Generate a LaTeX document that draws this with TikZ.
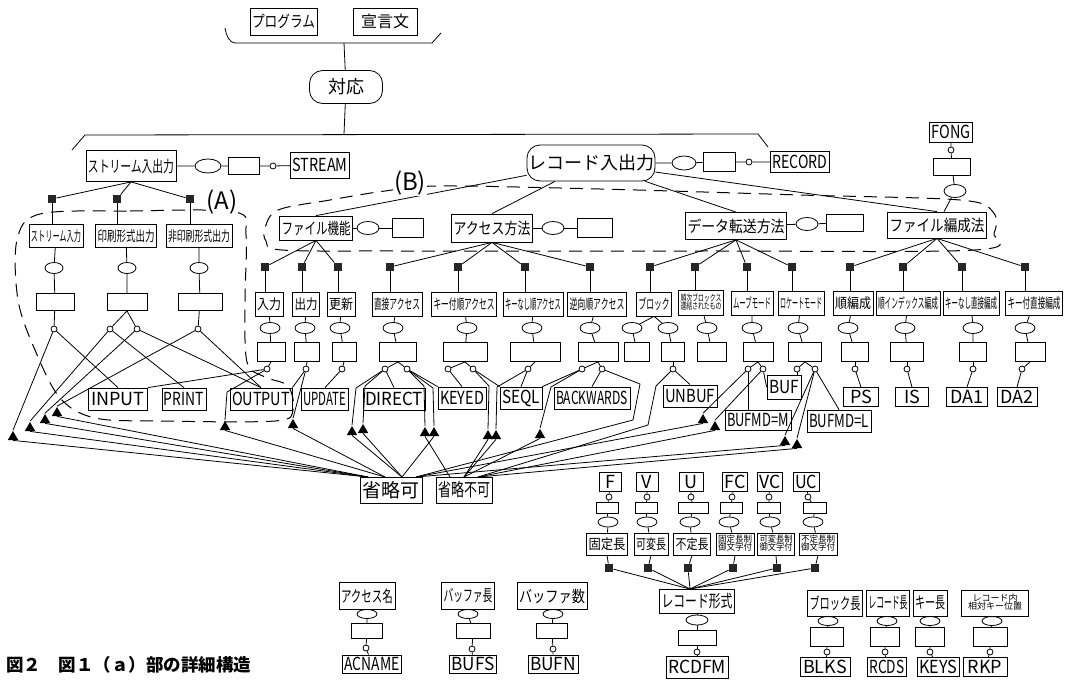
\documentclass[tikz,border=0pt]{standalone}
\usepackage{fontspec}
\setmainfont{Noto Sans CJK JP}
\usepackage{graphicx}
\usetikzlibrary{shapes.geometric,calc}
\newsavebox\fitbox
\newlength\fitlen
\newcommand\fitt[2]{\setlength\fitlen{#1pt}\addtolength\fitlen{-4pt}\sbox\fitbox{#2}\ifdim\wd\fitbox>\fitlen\resizebox{\fitlen}{\height}{\usebox\fitbox}\else\usebox\fitbox\fi}
\newcommand\twoln[2]{\begin{tabular}{@{}c@{}}#1\\[-2.5pt]#2\end{tabular}}
% \Bx[opts]{name}{x,y}{w}{h}{text}
\newcommand\Bx[6][]{\node[bx,minimum width=#4,minimum height=#5,#1] (#2) at (#3) {\fitt{#4}{#6}};}
\newcommand\Eb[4]{\node[bx,minimum width=#3,minimum height=#4] (#1) at (#2) {};}
\begin{document}
\begin{tikzpicture}[x=1pt,y=-1pt,line width=0.8pt,
 bx/.style={draw,rectangle,inner sep=0pt,font=\fontsize{16}{17}\selectfont},
 kw/.style={font=\fontsize{18}{19}\selectfont},
 sml/.style={font=\fontsize{14}{15}\selectfont},
 tny/.style={font=\fontsize{9}{9.5}\selectfont},
 capsl/.style={draw,rectangle,rounded corners=13pt,inner sep=0pt,font=\fontsize{18}{19}\selectfont},
 el/.style={draw,ellipse,minimum width=20pt,minimum height=11pt,inner sep=0pt},
 sm/.style={draw,circle,minimum size=6pt,inner sep=0pt},
 sq/.style={fill=black!85,rectangle,minimum size=8pt,inner sep=0pt},
 tri/.style={fill=black,regular polygon,regular polygon sides=3,minimum size=12pt,inner sep=0pt},
 reg/.style={dash pattern=on 13pt off 8pt,line width=1pt},
 lab/.style={fill=white,inner sep=1pt,font=\fontsize{24}{26}\selectfont}]
\fill[white] (0,0) rectangle (1066,683);
\useasboundingbox (0,0) rectangle (1066,683);

% ---------- top ----------
\Bx{prog}{283.5,21.5}{67}{27}{プログラム}
\Bx{decl}{385,21.5}{64}{27}{宣言文}
\coordinate (brL) at (225,28);
\coordinate (brR) at (441,33);
\coordinate (brM) at (344,43);
\draw (brL) to[out=-80,in=180] (236,43) -- (432,43) -- (brR);
\node[capsl,minimum width=73,minimum height=33] (taio) at (346,87) {対応};
\draw (brM) -- (taio);
\coordinate (BM) at (344,134);
\draw (taio) -- (BM);
\draw (72,150) -- (85,135) -- (758,134) -- (768,147);

% ---------- stream ----------
\Bx{sio}{131,166}{90}{31}{ストリーム入出力}
\node[el,minimum width=26,minimum height=14] (se) at (208,166) {};
\Eb{sb}{244,166}{31}{17}
\node[sm] (sc) at (273,166) {};
\Bx[kw]{stream}{320,165}{59}{26}{STREAM}
\draw (sio) -- (se) -- (sb) -- (sc) -- (stream);

\node[sq] (sq1) at (52,199) {};
\node[sq] (sq2) at (117,199) {};
\node[sq] (sq3) at (190,199) {};
\draw (sio.south) -- (sq1);
\draw (sio.south) -- (sq2);
\draw (sio.south) -- (sq3);
\Bx[sml]{st1}{56,236}{54}{23}{ストリーム入力}
\Bx[sml]{st2}{126,236}{61}{23}{印刷形式出力}
\Bx[sml]{st3}{199,236}{66}{23}{非印刷形式出力}
\draw (sq1) -- (sq1 |- st1.north);
\draw (sq2) -- (sq2 |- st2.north);
\draw (sq3) -- (sq3 |- st3.north);
\node[el,minimum width=18,minimum height=11] (ste1) at (54,268) {};
\node[el,minimum width=18,minimum height=11] (ste2) at (127,268) {};
\node[el,minimum width=18,minimum height=11] (ste3) at (199,268) {};
\Eb{stb1}{55,302}{38}{17}
\Eb{stb2}{127,302}{40}{17}
\Eb{stb3}{200,302}{44}{17}
\node[sm] (stc1) at (54,329) {};
\node[sm] (stc2a) at (110,329) {};
\node[sm] (stc2b) at (137,329) {};
\node[sm] (stc3) at (198,329) {};
\draw (st1) -- (ste1) -- (stb1) -- (stc1);
\draw (st2) -- (ste2) -- (stb2);
\draw (st3) -- (ste3) -- (stb3) -- (stc3);
\draw (stb2.south) -- (stc2a);
\draw (stb2.south) -- (stc2b);

% ---------- record ----------
\node[capsl,minimum width=128,minimum height=36] (rio) at (591,163) {レコード入出力};
\node[el,minimum width=24,minimum height=14] (re) at (684,163) {};
\Eb{rb}{719,162}{32}{19}
\node[sm] (rc) at (749,162) {};
\Bx[kw]{record}{800,162}{59}{21}{RECORD}
\draw (rio) -- (re) -- (rb) -- (rc) -- (record);

\Bx{ff}{316,228}{73}{24}{ファイル機能}
\node[el,minimum width=22,minimum height=13] (ffe) at (368,228) {};
\Eb{ffb}{408,228}{31}{19}
\draw (ff) -- (ffe) -- (ffb);
\Bx{am}{492,228}{81}{28}{アクセス方法}
\node[el,minimum width=22,minimum height=13] (ame) at (553,228) {};
\Eb{amb}{595,228}{35}{19}
\draw (am) -- (ame) -- (amb);
\Bx{dt}{736,226}{101}{27}{データ転送方法}
\node[el,minimum width=22,minimum height=13] (dte) at (807,224) {};
\Eb{dtb}{845,223}{37}{17}
\draw (dt) -- (dte) -- (dtb);
\Bx{fo}{937,225}{99}{26}{ファイル編成法}
\node[el,minimum width=22,minimum height=13] (foe) at (955,191) {};
\Eb{fob}{952,167}{37}{17}
\node[sm] (foc) at (951,150) {};
\Bx[kw]{fong}{951,132}{43}{20}{FONG}
\draw (fong) -- (foc) -- (fob) -- (foe) -- (fo);

\draw (rio) -- (ff.north);
\draw (rio) -- (am.north);
\draw (rio) -- (dt.north);
\draw (rio) -- (fo.north);

% level 3 squares
\foreach \n/\x in {1/265,2/302,3/338,4/390,5/458,6/525,7/590,8/650,9/695,10/747,11/792,12/850,13/903,14/962,15/1025}
  {\node[sq] (q\n) at (\x,267) {};}
\foreach \n in {1,2,3} {\draw (ff.south) -- (q\n);}
\foreach \n in {4,5,6,7} {\draw (am.south) -- (q\n);}
\foreach \n in {8,9,10,11} {\draw (dt.south) -- (q\n);}
\foreach \n in {12,13,14,15} {\draw (fo.south) -- (q\n);}

\Bx[sml]{L1}{269,304}{28}{24}{入力}
\Bx[sml]{L2}{306,304}{27}{24}{出力}
\Bx[sml]{L3}{341,304}{28}{24}{更新}
\Bx[sml]{L4}{397,304}{50}{24}{直接アクセス}
\Bx[sml]{L5}{464,304}{65}{24}{キー付順アクセス}
\Bx[sml]{L6}{533,304}{60}{24}{キーなし順アクセス}
\Bx[sml]{L7}{597,304}{59}{24}{逆向順アクセス}
\Bx[sml]{L8}{654,304}{35}{24}{ブロック}
\Bx[tny]{L9}{701,303}{45}{25}{\twoln{順次ブロックス}{連結されたもの}}
\Bx[sml]{L10}{752,303}{42}{24}{ムーブモード}
\Bx[sml]{L11}{801,303}{46}{24}{ロケートモード}
\Bx[sml]{L12}{853,303}{40}{24}{順編成}
\Bx[sml]{L13}{908,303}{64}{24}{順インデックス編成}
\Bx[sml]{L14}{971,303}{56}{24}{キーなし直接編成}
\Bx[sml]{L15}{1034,303}{57}{24}{キー付直接編成}
\foreach \n in {1,...,15} {\draw (q\n) -- (q\n |- L\n.north);}

\foreach \n/\x in {1/270,2/305,3/340,4/393,5/467,6/532,7/590,8a/632,8b/668,9/707,10/752,11/798,12/848,13/905,14/973,15/1025}
  {\node[el] (e\n) at (\x,328) {};}
\foreach \n/\x/\w in {1/271/28,2/307/25,3/344/24,4/398/37,5/465/44,6/535/50,7/598/40,8a/637/25,8b/673/23,9/712/29,10/758/30,11/805/33,12/855/27,13/907/33,14/973/27,15/1030/30}
  {\node[bx,minimum width=\w,minimum height=19] (b\n) at (\x,352) {};}
\foreach \n in {1,2,3,4,5,6,7,9,10,11,12,13,14,15} {\draw (L\n) -- (e\n) -- (b\n);}
\draw (L8.south) -- (e8a) -- (b8a);
\draw (L8.south) -- (e8b) -- (b8b);

\foreach \n/\x in {1/267,2/306,3/342,4a/385,4b/407,5a/448,5b/473,6/528,7a/582,7b/602,8/673,10a/748,10b/763,11a/797,11b/815,12/855,13/907,14/973,15/1022}
  {\node[sm] (c\n) at (\x,369) {};}
\foreach \n in {1,2,3,6,12,13,14,15} {\draw (b\n.south) -- (c\n);}
\draw (b4.south) -- (c4a); \draw (b4.south) -- (c4b);
\draw (b5.south) -- (c5a); \draw (b5.south) -- (c5b);
\draw (b7.south) -- (c7a); \draw (b7.south) -- (c7b);
\draw (b8b.south) -- (c8);
\draw (b10.south) -- (c10a); \draw (b10.south) -- (c10b);
\draw (b11.south) -- (c11a); \draw (b11.south) -- (c11b);

% ---------- keywords ----------
\Bx[kw]{kINPUT}{118,399}{59}{22}{INPUT}
\Bx[kw]{kPRINT}{184,399}{44}{22}{PRINT}
\Bx[kw]{kOUTPUT}{261,399}{62}{22}{OUTPUT}
\Bx[kw]{kUPDATE}{325,399}{47}{22}{UPDATE}
\Bx[kw]{kDIRECT}{394,399}{62}{22}{DIRECT}
\Bx[kw]{kKEYED}{462,398}{48}{22}{KEYED}
\Bx[kw]{kSEQL}{521,398}{42}{22}{SEQL}
\Bx[kw]{kBACK}{592,398}{76}{22}{BACKWARDS}
\Bx[kw]{kUNBUF}{690,396}{54}{22}{UNBUF}
\Bx[kw]{kBUF}{784,387}{34}{24}{BUF}
\Bx[kw]{kBUFMDM}{758,420}{66}{20}{BUFMD=M}
\Bx[kw]{kBUFMDL}{839,421}{64}{22}{BUFMD=L}
\Bx[kw]{kPS}{861,397}{35}{19}{PS}
\Bx[kw]{kIS}{912,397}{33}{19}{IS}
\Bx[kw]{kDA1}{967,397}{41}{19}{DA1}
\Bx[kw]{kDA2}{1017,397}{40}{19}{DA2}

\Bx[font=\fontsize{19}{20}\selectfont]{kab}{391,490}{62}{26}{省略可}
\Bx[font=\fontsize{18}{19}\selectfont]{fuka}{464,490}{56}{26}{省略不可}
\coordinate (a1) at (368,477);
\coordinate (a2) at (385,477);
\coordinate (a3) at (402,477);
\coordinate (a4) at (416,477);
\coordinate (n1) at (450,477);
\coordinate (n2) at (464,477);
\coordinate (n3) at (478,477);

% triangles
\foreach \n/\x/\y in {1/13/437,2/30/428,3/45/420,4/57/413,5/225/427,6/293/425,7/352/432,8/363/430,9/425/433,10/434/433,11/488/436,12/496/436,13/540/435,14/703/420,15/715/427,16/785/442,17/797/445}
  {\node[tri] (t\n) at (\x,\y) {};}

% stream connections
\draw (stc1) -- (kINPUT.north);
\draw (stc1) -- (t1.north);
\draw (stc2a) -- (kPRINT.north);
\draw (stc2a) -- (t2.north);
\draw (stc2b) -- (kOUTPUT.north);
\draw (stc2b) -- (t3.north);
\draw (stc3) -- (kOUTPUT.north);
\draw (stc3) -- (t4.north);
% record connections
\draw (c1) -- (kINPUT.north east);
\draw (c1) -- (227,392) -- (t5.north);
\draw (c2) -- (kOUTPUT.north east);
\draw (c2) -- (t6.north);
\draw (c3) -- (kUPDATE.north);
\draw (c4a) -- (kDIRECT.north);
\draw (c4a) -- (356,388) -- (t7.north);
\draw (c4a) -- (365,386) -- (t8.north);
\draw (c4b) -- (kKEYED.north west);
\draw (c4b) -- (424,386) -- (t9.north);
\draw (c4b) -- (433,388) -- (t10.north);
\draw (c5a) -- (kKEYED.north);
\draw (c5b) -- (kSEQL.north west);
\draw (c5b) -- (489,386) -- (t11.north);
\draw (c6) -- (kSEQL.north);
\draw (c6) -- (497,387) -- (t12.north);
\draw (c7a) -- (kSEQL.north east);
\draw (c7a) -- (551,387) -- (t13.north);
\draw (c7b) -- (kBACK.north);
\draw (c7b) -- (640,384) -- (633,420) -- (a4);
\draw (c8) -- (kUNBUF.north);
\draw (c8) -- (656,386) -- (648,425) -- (n3);
\draw (c10a) -- (c10a |- kBUFMDM.north);
\draw (c10a) -- (t14.north);
\draw (c10b) -- (kBUF.west);
\draw (c10b) -- (t15.north);
\draw (c11a) -- (c11a |- kBUF.north);
\draw (c11b) -- (t16.north);
\draw (c11b) -- (t17.north);
\draw (c11b) -- (kBUFMDL.north);
\draw (c12) -- (kPS.north);
\draw (c13) -- (kIS.north);
\draw (c14) -- (kDA1.north);
\draw (c15) -- (kDA2.north);
% triangles to omission boxes
\foreach \n in {1,2,3,4} {\draw (t\n.south) -- (a1);}
\foreach \n in {5,6} {\draw (t\n.south) -- (a2);}
\foreach \n in {7,8,10} {\draw (t\n.south) -- (a3);}
\draw (t9.south) -- (n1);
\foreach \n in {11,12,13} {\draw (t\n.south) -- (n2);}
\foreach \n in {14,16} {\draw (t\n.south) -- (a4);}
\foreach \n in {15,17} {\draw (t\n.south) -- (n3);}

% dashed regions
\draw[reg] plot[smooth cycle,tension=0.55] coordinates {(40,214) (130,211) (235,212) (246,235) (245,300) (247,362) (265,377) (288,386) (293,410) (275,421) (160,421) (95,418) (60,398) (35,350) (18,300) (17,240)};
\node[lab] (labA) at (222,202) {(A)};
\draw[reg] plot[smooth cycle,tension=0.55] coordinates {(265,228) (278,210) (330,200) (385,191) (440,186) (600,189) (800,195) (960,200) (993,212) (994,233) (975,250) (700,251) (400,251) (282,250) (266,241)};
\node[lab] (labB) at (410,183) {(B)};

% ---------- record format ----------
\foreach \n/\x/\t/\w in {1/610/F/22,2/647/V/22,3/691/U/24,4/735/FC/25,5/770/VC/25,6/806/UC/26}
  {\node[bx,kw,minimum width=\w,minimum height=19] (kf\n) at (\x,482) {\fitt{\w}{\t}};}
\foreach \n/\x in {1/609,2/647,3/691,4/732,5/769,6/808} {\node[sm] (fc\n) at (\x,497) {};}
\foreach \n/\x/\w in {1/607/22,2/646/22,3/693/30,4/731/22,5/769/23,6/815/23}
  {\node[bx,minimum width=\w,minimum height=11] (fb\n) at (\x,508) {};}
\foreach \n/\x in {1/608,2/647,3/690,4/729,5/770,6/813} {\node[el,minimum width=20,minimum height=10] (fe\n) at (\x,522) {};}
\Bx[sml]{ft1}{607,544}{41}{22}{固定長}
\Bx[sml]{ft2}{651,544}{34}{22}{可変長}
\Bx[sml]{ft3}{692,544}{37}{22}{不定長}
\Bx[tny]{ft4}{735,544}{38}{22}{\twoln{固定長制}{御文字付}}
\Bx[tny]{ft5}{776,544}{37}{22}{\twoln{可変長制}{御文字付}}
\Bx[tny]{ft6}{818,544}{38}{22}{\twoln{不定長制}{御文字付}}
\foreach \n/\x in {1/609,2/648,3/688,4/733,5/777,6/815} {\node[sq] (fs\n) at (\x,568) {};}
\Bx[font=\fontsize{17}{18}\selectfont]{rf}{697,601}{75}{24}{レコード形式}
\coordinate (rfn) at (690,589);
\foreach \n in {1,...,6} {\draw (kf\n) -- (fc\n) -- (fb\n) -- (fe\n) -- (ft\n); \draw (ft\n.south) -- (fs\n) -- (rfn);}
\node[el,minimum width=22,minimum height=10] (rfe) at (697,620) {};
\Eb{rfb}{697,638}{38}{15}
\node[sm] (rfc) at (697,652) {};
\Bx[kw]{rcdfm}{697,667}{62}{22}{RCDFM}
\draw (rf) -- (rfe) -- (rfb) -- (rfc) -- (rcdfm);

% ---------- bottom left ----------
\Bx{an}{367,596}{56}{27}{アクセス名}
\node[el,minimum width=20,minimum height=9] (ane) at (367,614) {};
\Eb{anb}{367,631}{31}{15}
\node[sm] (anc) at (366,648) {};
\Bx[kw]{acname}{372,664}{59}{18}{ACNAME}
\draw (an) -- (ane) -- (anb) -- (anc) -- (acname);
\Bx{bl}{468,596}{53}{27}{バッファ長}
\node[el,minimum width=20,minimum height=9] (ble) at (468,614) {};
\Eb{blb}{473,631}{34}{15}
\node[sm] (blc) at (472,649) {};
\Bx[kw]{bufs}{473,664}{47}{18}{BUFS}
\draw (bl) -- (ble) -- (blb) -- (blc) -- (bufs);
\Bx{bn}{552,596}{70}{27}{バッファ数}
\node[el,minimum width=20,minimum height=9] (bne) at (553,614) {};
\Eb{bnb}{552,631}{31}{15}
\node[sm] (bnc) at (553,649) {};
\Bx[kw]{bufn}{553,664}{50}{18}{BUFN}
\draw (bn) -- (bne) -- (bnb) -- (bnc) -- (bufn);

% ---------- bottom right ----------
\Bx{bk}{835,603}{55}{26}{ブロック長}
\Bx{rl}{888,603}{43}{26}{レコード長}
\Bx{kl}{930,603}{34}{26}{キー長}
\Bx[tny]{rk}{995,603}{67}{26}{\twoln{レコード内}{相対キー位置}}
\foreach \s/\x in {bk/828,rl/887,kl/930,rk/992} {\node[el,minimum width=20,minimum height=9] (\s e) at (\x,621) {};}
\Eb{bkb}{827,637}{33}{19}
\Eb{rlb}{885,637}{29}{19}
\Eb{klb}{930,637}{29}{19}
\Eb{rkb}{990,637}{34}{19}
\foreach \s/\x in {bk/827,rl/885,kl/930,rk/990} {\node[sm] (\s c) at (\x,652) {};}
\Bx[kw]{blks}{825,667}{50}{19}{BLKS}
\Bx[kw]{rcds}{887,667}{39}{19}{RCDS}
\Bx[kw]{keys}{938,667}{42}{19}{KEYS}
\Bx[kw]{rkp}{985,667}{44}{19}{RKP}
\draw (bk) -- (bke) -- (bkb) -- (bkc) -- (blks);
\draw (rl) -- (rle) -- (rlb) -- (rlc) -- (rcds);
\draw (kl) -- (kle) -- (klb) -- (klc) -- (keys);
\draw (rk) -- (rke) -- (rkb) -- (rkc) -- (rkp);

% caption
\node[anchor=west,inner sep=0pt,font=\bfseries\fontsize{17.5}{18}\selectfont] (caption) at (6,665) {図２　図１（ａ）部の詳細構造};
\end{tikzpicture}
\end{document}
